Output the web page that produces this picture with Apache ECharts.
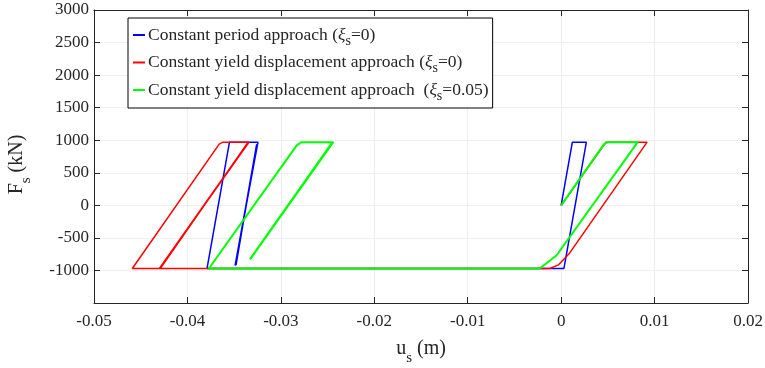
<!DOCTYPE html>
<html>
<head>
<meta charset="utf-8">
<script src="https://cdn.jsdelivr.net/npm/echarts@6/dist/echarts.min.js"></script>
<style>
  html, body { margin: 0; padding: 0; background: #fff; }
  #chart { width: 765px; height: 368px; }
</style>
</head>
<body>
<div id="chart"></div>
<script>
// hysteresis loops, [u_s (m), F_s (kN)]
const periodLoop = [
  [0, 0], [0.0012, 970], [0.0027, 970], [0.0003, -970], [-0.0379, -970],
  [-0.0355, 970], [-0.03245, 970], [-0.0349, -925], [-0.03255, 940],
  [-0.03485, -915], [-0.0326, 930], [-0.0348, -920]
]
const yieldLoop = [
  [0, 0], [0.0048, 970], [0.0092, 970], [0.0009, -735], [-0.0003, -915],
  [-0.0012, -970], [-0.0459, -970], [-0.0366, 940], [-0.0362, 970],
  [-0.0334, 970], [-0.0430, -970], [-0.03355, 960], [-0.04285, -960],
  [-0.0336, 950], [-0.0429, -965]
]
const dampedLoop = [
  [0, 0], [0.0041, 840], [0.0046, 940], [0.0050, 970], [0.0082, 970],
  [-0.0005, -770], [-0.0023, -970], [-0.0377, -970], [-0.0283, 920],
  [-0.0278, 970], [-0.0244, 970], [-0.0333, -830], [-0.02455, 955],
  [-0.03325, -820], [-0.0246, 945], [-0.0333, -825]
]

const seriesNames = [
  'Constant period approach (ξs=0)',
  'Constant yield displacement approach (ξs=0)',
  'Constant yield displacement approach  (ξs=0.05)'
]
const legendText = [
  'Constant period approach ({it|ξ}{sub|s}=0)',
  'Constant yield displacement approach ({it|ξ}{sub|s}=0)',
  'Constant yield displacement approach  ({it|ξ}{sub|s}=0.05)'
]
const seriesColors = ['#0000ff', '#ff0000', '#00ff00']
const seriesWidths = [1.5, 1.5, 2]
const loops = [periodLoop, yieldLoop, dampedLoop]

const xTicks = [-0.05, -0.04, -0.03, -0.02, -0.01, 0, 0.01, 0.02]
const yTicks = [-1500, -1000, -500, 0, 500, 1000, 1500, 2000, 2500, 3000]

const font = 'Liberation Serif'
const ink = '#262626'

const chart = echarts.init(document.getElementById('chart'))

const subRich = {
  sub: { fontFamily: font, fontSize: 14, color: ink, verticalAlign: 'bottom', lineHeight: 26 },
  it: { fontFamily: font, fontSize: 17.5, fontStyle: 'italic', color: ink }
}

const nameRich = {
  n: { fontFamily: font, fontSize: 20, color: ink },
  sub: { fontFamily: font, fontSize: 15, color: ink, verticalAlign: 'bottom', lineHeight: 34 }
}

const frameAxis = (pos) => ({
  position: pos,
  axisLine: { show: true, onZero: false, lineStyle: { color: ink, width: 1 } },
  axisTick: { show: true, inside: true, length: 6, lineStyle: { color: ink } },
  axisLabel: { show: false },
  splitLine: { show: false }
})

const option = {
  animation: false,
  backgroundColor: '#fff',
  grid: { left: 94, right: 17, top: 10, bottom: 65, outerBoundsMode: 'none' },
  legend: {
    orient: 'vertical',
    left: 128,
    top: 18,
    padding: [8, 4, 5, 5],
    itemGap: 5.5,
    itemWidth: 12,
    itemHeight: 2,
    icon: 'rect',
    borderColor: '#000',
    borderWidth: 1,
    backgroundColor: '#fff',
    data: seriesNames,
    formatter: (name) => legendText[seriesNames.indexOf(name)],
    textStyle: {
      fontFamily: font, fontSize: 17.5, color: ink, padding: [0, 0, 0, -2],
      rich: subRich
    }
  },
  xAxis: [
    {
      type: 'value',
      min: xTicks[0],
      max: xTicks[xTicks.length - 1],
      interval: 0.01,
      name: '{n|u}{sub|s} (m)',
      nameLocation: 'middle',
      nameGap: 29,
      nameTextStyle: { fontFamily: font, fontSize: 20, color: ink, rich: nameRich },
      axisLine: { show: true, onZero: false, lineStyle: { color: ink } },
      axisTick: { show: true, inside: true, length: 6, lineStyle: { color: ink } },
      axisLabel: {
        fontFamily: font, fontSize: 17, color: ink, margin: 10,
        formatter: (v) => String(+v.toFixed(2))
      },
      splitLine: { show: true, lineStyle: { color: '#efefef', width: 1 } }
    },
    Object.assign({ type: 'value', min: xTicks[0], max: xTicks[xTicks.length - 1], interval: 0.01 }, frameAxis('top'))
  ],
  yAxis: [
    {
      type: 'value',
      min: yTicks[0],
      max: yTicks[yTicks.length - 1],
      interval: 500,
      name: '{n|F}{sub|s} (kN)',
      nameLocation: 'middle',
      nameRotate: 90,
      nameGap: 60,
      nameTextStyle: { fontFamily: font, fontSize: 20, color: ink, padding: [0, 16, 0, 0], rich: nameRich },
      axisLine: { show: true, onZero: false, lineStyle: { color: ink } },
      axisTick: { show: true, inside: true, length: 6, lineStyle: { color: ink } },
      axisLabel: {
        fontFamily: font, fontSize: 17, color: ink, margin: 5,
        showMinLabel: false,
        formatter: (v) => String(v)
      },
      splitLine: { show: true, lineStyle: { color: '#efefef', width: 1 } }
    },
    Object.assign({ type: 'value', min: yTicks[0], max: yTicks[yTicks.length - 1], interval: 500 }, frameAxis('right'))
  ],
  series: loops.map((d, i) => ({
    name: seriesNames[i],
    type: 'line',
    data: d,
    showSymbol: false,
    symbol: 'none',
    color: seriesColors[i],
    lineStyle: { color: seriesColors[i], width: seriesWidths[i] },
    z: 2 + i
  }))
}

chart.setOption(option)
</script>
</body>
</html>
